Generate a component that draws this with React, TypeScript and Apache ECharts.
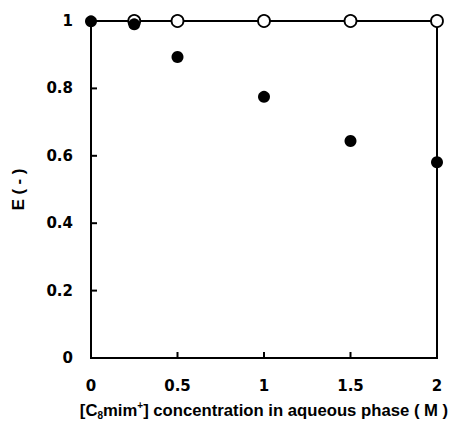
import React, { useEffect, useRef } from "react";
import * as echarts from "echarts";

const xTicks = [0, 0.5, 1, 1.5, 2];
const yTicks = [0, 0.2, 0.4, 0.6, 0.8, 1];
const xInnerTicks = [0.5, 1, 1.5];
const yInnerTicks = [0.2, 0.4, 0.6, 0.8];
const filledX = [0, 0.25, 0.5, 1, 1.5, 2];
const filledY = [0.999, 0.99, 0.893, 0.775, 0.644, 0.581];
const openX = [0.25, 0.5, 1, 1.5, 2];
const openY = [1.0, 1.0, 1.0, 1.0, 1.0];

const FONT = "Liberation Sans, Arial, Helvetica, sans-serif";
const TICKFONT = "DejaVu Sans, Liberation Sans, sans-serif";

export default function App() {
  const ref = useRef<HTMLDivElement>(null);
  useEffect(() => {
    const chart = echarts.init(ref.current!, undefined, { renderer: "svg" });
    const tickStyle = { color: "#000", fontWeight: "bold" as const, fontSize: 15, fontFamily: TICKFONT };
    const nameStyle = { color: "#000", fontWeight: "bold" as const, fontSize: 16.7, fontFamily: FONT };
    const TL = 6;
    const TW = 2;
    chart.setOption({
      animation: false,
      backgroundColor: "#fff",
      grid: {
        left: 91,
        right: 17,
        top: 21,
        bottom: 64,
        containLabel: false,
        show: true,
        borderColor: "#000",
        borderWidth: 2,
        backgroundColor: "transparent",
      },
      xAxis: {
        type: "value",
        min: 0,
        max: 2,
        interval: 0.5,
        position: "bottom",
        name: "[C{sub|8}mim{sup|+}] concentration in aqueous phase ( M )",
        nameLocation: "middle",
        nameGap: 42,
        nameTextStyle: {
          ...nameStyle,
          lineHeight: 20,
          rich: {
            sub: { fontSize: 10, fontWeight: "bold", fontFamily: FONT, color: "#000", verticalAlign: "bottom", lineHeight: 20 },
            sup: { fontSize: 10, fontWeight: "bold", fontFamily: FONT, color: "#000", verticalAlign: "top", lineHeight: 20 },
          },
        },
        axisLine: { show: false },
        axisTick: { show: false },
        axisLabel: {
          ...tickStyle,
          margin: 20,
          formatter: (v: number) => (xTicks.includes(v) ? String(v) : ""),
        },
        splitLine: { show: false },
      },
      yAxis: {
        type: "value",
        min: 0,
        max: 1,
        interval: 0.2,
        position: "left",
        name: "E ( - )",
        nameLocation: "middle",
        nameGap: 64,
        nameTextStyle: nameStyle,
        axisLine: { show: false },
        axisTick: { show: false },
        axisLabel: {
          ...tickStyle,
          margin: 18,
          formatter: (v: number) => {
            const t = yTicks.find((y) => Math.abs(y - v) < 1e-9);
            return t === undefined ? "" : String(t);
          },
        },
        splitLine: { show: false },
      },
      series: [
        {
          type: "scatter",
          silent: true,
          data: yInnerTicks.map((v) => [0, v]),
          symbol: "rect",
          symbolSize: [TL, TW],
          symbolOffset: [TL / 2, 0],
          itemStyle: { color: "#000", opacity: 1 },
          z: 5,
        },
        {
          type: "scatter",
          silent: true,
          data: xInnerTicks.map((v) => [v, 0]),
          symbol: "rect",
          symbolSize: [TW, TL],
          symbolOffset: [0, -TL / 2],
          itemStyle: { color: "#000", opacity: 1 },
          z: 5,
        },
        {
          type: "scatter",
          data: openX.map((x, i) => [x, openY[i]]),
          symbol: "circle",
          symbolSize: 12,
          itemStyle: { color: "#fff", borderColor: "#000", borderWidth: 1.8, opacity: 1 },
          z: 2,
        },
        {
          type: "scatter",
          data: filledX.map((x, i) => [x, filledY[i]]),
          symbol: "circle",
          symbolSize: 12,
          itemStyle: { color: "#000", opacity: 1 },
          z: 3,
        },
      ],
    });
    return () => chart.dispose();
  }, []);
  return <div ref={ref} style={{ width: 454, height: 425, position: "absolute", left: 0, top: 0 }} />;
}
